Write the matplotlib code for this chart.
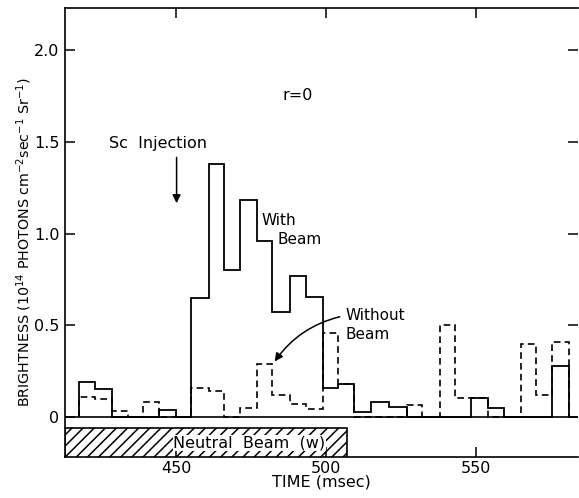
import numpy as np
import matplotlib
matplotlib.use('Agg')
import matplotlib.pyplot as plt
from matplotlib.patches import Rectangle

# bin edges (msec)
edges = [417.5, 423, 428.5, 434, 439, 444.5, 450, 455, 461, 466, 471.5,
         477, 482, 488, 493.5, 499, 504, 509.5, 515, 521, 527, 532, 538,
         543, 548.5, 554, 559.5, 565, 570, 575.5, 581]

# brightness with the neutral beam (solid)
with_beam = [0.19, 0.155, 0, 0, 0, 0.04, 0, 0.65, 1.38, 0.80, 1.18, 0.96,
             0.57, 0.77, 0.655, 0.16, 0.18, 0.03, 0.08, 0.052, 0, 0, 0, 0,
             0.105, 0.047, 0, 0, 0, 0.28]

# brightness without beam (dashed)
without_beam = [0.11, 0.097, 0.034, 0, 0.08, 0, 0, 0.158, 0.14, 0, 0.05,
                0.287, 0.12, 0.07, 0.043, 0.46, 0.18, 0, 0, 0, 0.065, 0,
                0.50, 0.105, 0.105, 0, 0, 0.40, 0.12, 0.41]

beam_on = (413, 507)
xticks = [450, 500, 550]
yticks = [0, 0.5, 1.0, 1.5, 2.0]
yticklabels = ['0', '0.5', '1.0', '1.5', '2.0']

plt.rcParams['font.family'] = ['DejaVu Sans']
plt.rcParams['hatch.linewidth'] = 1.1

fig = plt.figure(figsize=(5.79, 4.98), dpi=100)
ax = fig.add_axes([0.1123, 0.0823, 0.8857, 0.9016])

ax.stairs(with_beam, edges, baseline=0, color='black', lw=1.3)
ax.stairs(without_beam, edges, baseline=0, color='black', lw=1.2,
          linestyle=(0, (4, 2.5)))
ax.axhline(0, color='black', lw=1.2)

# neutral beam bar
ax.add_patch(Rectangle((beam_on[0], -0.3), beam_on[1] - beam_on[0], 0.24,
                       facecolor='white', edgecolor='black', hatch='///',
                       lw=1.2))
ax.text(474.5, -0.14, 'Neutral  Beam  (w)', ha='center', va='center',
        fontsize=11.5, bbox=dict(facecolor='white', edgecolor='none', pad=0.5))

ax.set_xlim(413, 584)
ax.set_ylim(-0.218, 2.229)

ax.set_xticks(xticks)
ax.set_yticks(yticks)
ax.set_yticklabels(yticklabels)
ax.tick_params(direction='in', length=7, width=1.1, labelsize=11.5,
               top=True, right=True)
ax.tick_params(axis='x', pad=3)
ax.tick_params(axis='y', pad=4)
ax.spines['right'].set_visible(False)
for s in ['left', 'top', 'bottom']:
    ax.spines[s].set_linewidth(1.2)

ax.set_xlabel('TIME (msec)', fontsize=11.5, labelpad=-1)
ax.set_ylabel('BRIGHTNESS (10$^{14}$ PHOTONS cm$^{-2}$sec$^{-1}$ Sr$^{-1}$)',
              fontsize=10.3)
ax.yaxis.set_label_coords(-0.06, 0.478)

ax.text(490.5, 1.75, 'r=0', ha='center', va='center', fontsize=11.5)
ax.text(444, 1.49, 'Sc  Injection', ha='center', va='center', fontsize=11.5)
ax.annotate('', xy=(450.2, 1.15), xytext=(450.2, 1.43),
            arrowprops=dict(arrowstyle='-|>', color='black', lw=1.1,
                            mutation_scale=12))
ax.text(478.6, 1.07, 'With', ha='left', va='center', fontsize=11)
ax.text(484, 0.97, 'Beam', ha='left', va='center', fontsize=11)
ax.text(506.5, 0.555, 'Without', ha='left', va='center', fontsize=11)
ax.text(506.5, 0.45, 'Beam', ha='left', va='center', fontsize=11)
ax.annotate('', xy=(482.4, 0.29), xytext=(505.5, 0.55),
            arrowprops=dict(arrowstyle='-|>', color='black', lw=1.1,
                            mutation_scale=12,
                            connectionstyle='arc3,rad=0.2'))

fig.savefig('out.png', dpi=100)
